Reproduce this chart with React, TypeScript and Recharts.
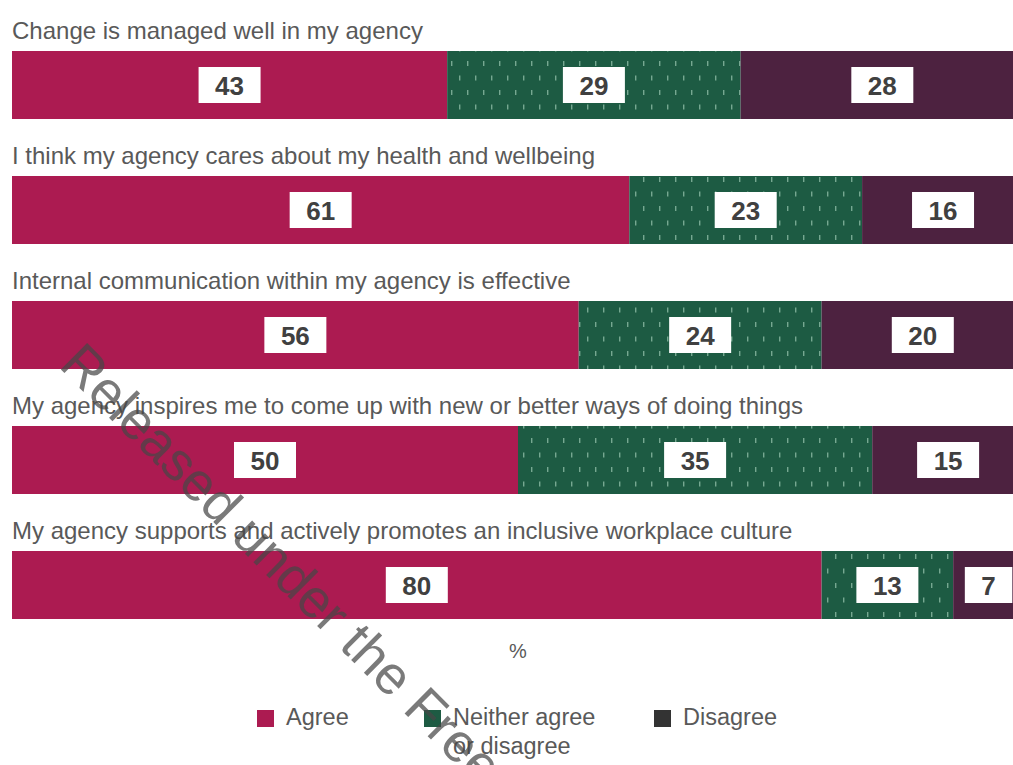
import React from "react";
import { BarChart, Bar, XAxis, YAxis, Legend, LabelList } from "recharts";

const statements = [
  "Change is managed well in my agency",
  "I think my agency cares about my health and wellbeing",
  "Internal communication within my agency is effective",
  "My agency inspires me to come up with new or better ways of doing things",
  "My agency supports and actively promotes an inclusive workplace culture",
];
const agree = [43, 61, 56, 50, 80];
const neither = [29, 23, 24, 35, 13];
const disagree = [28, 16, 20, 15, 7];

const seriesNames = ["Agree", "Neither agree or disagree", "Disagree"];

const FONT = '"Liberation Sans", Arial, sans-serif';
const TEXT = "#595959";
const AGREE = "#ac1b51";
const NEITHER = "#1d5b43";
const DISAGREE = "#4d2240";
const LEFT = 12;

const data = statements.map((name, i) => ({
  name,
  agree: agree[i],
  neither: neither[i],
  disagree: disagree[i],
}));

function CategoryTick(props: any) {
  const { y, payload } = props;
  return (
    <text x={LEFT} y={y - 46} fill={TEXT} fontSize={24} fontFamily={FONT}>
      {payload.value}
    </text>
  );
}

function ValueBox(props: any) {
  const { x, y, width, height, value } = props;
  const cx = x + width / 2;
  const cy = y + height / 2;
  const w = String(value).length * 14.5 + 33;
  return (
    <g>
      <rect x={cx - w / 2} y={cy - 18} width={w} height={36} fill="#ffffff" />
      <text
        x={cx}
        y={cy + 9.5}
        textAnchor="middle"
        fill="#404040"
        fontSize={26}
        fontWeight="bold"
        fontFamily={FONT}
      >
        {value}
      </text>
    </g>
  );
}

const legendLefts = [246, 413, 643];
const legendSwatches = [AGREE, NEITHER, "#333333"];

function LegendContent() {
  return (
    <div style={{ position: "relative", height: 88, fontFamily: FONT, fontSize: 23.5, color: TEXT }}>
      {seriesNames.map((n, i) => (
        <div key={n} style={{ position: "absolute", left: legendLefts[i], top: 26, display: "flex" }}>
          <div style={{ width: 17, height: 17, background: legendSwatches[i], marginTop: 7, marginRight: 12 }} />
          <div style={{ width: 150, lineHeight: "29px" }}>{n}</div>
        </div>
      ))}
    </div>
  );
}

export default function App() {
  return (
    <div
      style={{
        position: "absolute",
        left: 0,
        top: 0,
        width: 1013,
        height: 765,
        overflow: "hidden",
        background: "#ffffff",
      }}
    >
      <BarChart
        width={1040}
        height={765}
        data={data}
        layout="vertical"
        barSize={68}
        margin={{ top: 22, right: 16, left: LEFT - 1, bottom: 0 }}
      >
        <defs>
          <pattern id="neitherDots" patternUnits="userSpaceOnUse" width={16} height={29}>
            <rect width={16} height={29} fill={NEITHER} />
            <rect x={3} y={3} width={1.4} height={5} fill="#9cc9b3" opacity={0.7} />
            <rect x={11} y={17.5} width={1.4} height={5} fill="#9cc9b3" opacity={0.7} />
          </pattern>
        </defs>
        <XAxis
          type="number"
          domain={[0, 100]}
          tick={false}
          axisLine={false}
          tickLine={false}
          height={30}
          label={{ value: "%", position: "insideTop", offset: -3, fill: TEXT, fontSize: 20, fontFamily: FONT }}
        />
        <YAxis
          type="category"
          dataKey="name"
          width={1}
          interval={0}
          axisLine={false}
          tickLine={false}
          tick={<CategoryTick />}
        />
        <Legend verticalAlign="bottom" content={<LegendContent />} />
        <Bar dataKey="agree" name="Agree" stackId="s" fill={AGREE} isAnimationActive={false}>
          <LabelList dataKey="agree" content={<ValueBox />} />
        </Bar>
        <Bar dataKey="neither" name="Neither agree or disagree" stackId="s" fill="url(#neitherDots)" isAnimationActive={false}>
          <LabelList dataKey="neither" content={<ValueBox />} />
        </Bar>
        <Bar dataKey="disagree" name="Disagree" stackId="s" fill={DISAGREE} isAnimationActive={false}>
          <LabelList dataKey="disagree" content={<ValueBox />} />
        </Bar>
      </BarChart>
      <div
        style={{
          position: "absolute",
          left: 52,
          top: 372,
          transformOrigin: "0 0",
          transform: "rotate(45deg) translateY(-100%)",
          whiteSpace: "nowrap",
          fontFamily: FONT,
          fontSize: 54,
          lineHeight: "54px",
          color: "rgba(70,70,70,0.72)",
          pointerEvents: "none",
        }}
      >
        Released under the Freedom of Information Act 1982
      </div>
    </div>
  );
}
